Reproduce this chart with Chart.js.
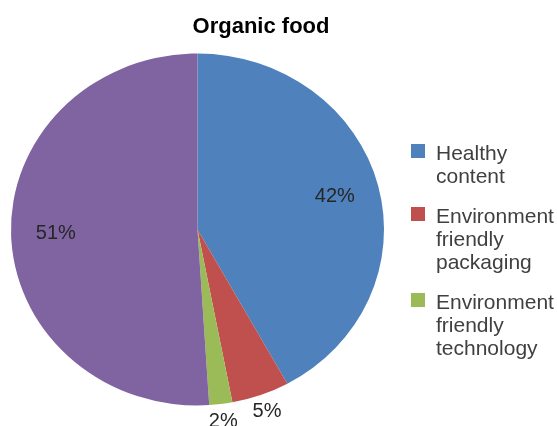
<!DOCTYPE html>
<html>
<head>
<meta charset="utf-8">
<script src="https://cdn.jsdelivr.net/npm/chart.js@4/dist/chart.umd.min.js"></script>
<style>
  html, body { margin: 0; padding: 0; background: #fff; }
  #wrap { width: 557px; height: 426px; position: relative; }
</style>
</head>
<body>
<div id="wrap"><canvas id="canvas"></canvas></div>
<script>
"use strict";

// data
const chartTitle = 'Organic food';
const categories = ['Healthy content', 'Environment friendly packaging', 'Environment friendly technology', 'Other'];
const shares = [42, 5, 2, 51];
const legendLines = [
  ['Healthy', 'content'],
  ['Environment', 'friendly', 'packaging'],
  ['Environment', 'friendly', 'technology']
];
const sliceColors = ['#4F81BD', '#C0504D', '#9BBB59', '#8064A2'];

// pie is a bit flatter than a circle in the picture
const squashY = 0.9435;
const fontFam = '"Liberation Sans", Arial, sans-serif';

const squashPlugin = {
  id: 'squash',
  beforeDatasetsDraw(chart) {
    const a = chart.chartArea;
    const cx = (a.left + a.right) / 2, cy = (a.top + a.bottom) / 2;
    const ctx = chart.ctx;
    ctx.save();
    ctx.translate(cx, cy);
    ctx.scale(1, squashY);
    ctx.translate(-cx, -cy);
  },
  afterDatasetsDraw(chart) {
    chart.ctx.restore();
  }
};

// percent labels, title and wrapped legend
const decorPlugin = {
  id: 'decor',
  afterDraw(chart) {
    const ctx = chart.ctx;
    const meta = chart.getDatasetMeta(0);
    ctx.save();
    ctx.font = '20px ' + fontFam;
    ctx.fillStyle = '#262626';
    ctx.textAlign = 'center';
    ctx.textBaseline = 'middle';
    meta.data.forEach((arc, i) => {
      const p = arc.getProps(['x', 'y', 'startAngle', 'endAngle', 'outerRadius'], true);
      const mid = (p.startAngle + p.endAngle) / 2;
      const k = shares[i] >= 10 ? 0.76 : 1.1;
      const x = p.x + Math.cos(mid) * p.outerRadius * k;
      const y = p.y + Math.sin(mid) * p.outerRadius * k * squashY;
      ctx.fillText(shares[i] + '%', x, y);
    });

    // title
    ctx.font = 'bold 22px ' + fontFam;
    ctx.fillStyle = '#000';
    ctx.textBaseline = 'alphabetic';
    ctx.fillText(chartTitle, 261, 33);

    // legend
    ctx.font = '21px ' + fontFam;
    ctx.fillStyle = '#404040';
    ctx.textAlign = 'left';
    let base = 160;
    legendLines.forEach((lines, i) => {
      ctx.fillStyle = sliceColors[i];
      ctx.fillRect(411, base - 16, 14, 14);
      ctx.fillStyle = '#404040';
      lines.forEach((t, j) => {
        ctx.fillText(t, 436, base + j * 23);
      });
      base += (lines.length - 1) * 23 + 40;
    });
    ctx.restore();
  }
};

const canvas = document.getElementById('canvas');
const ctx = canvas.getContext('2d');

let myChart = new Chart(ctx, {
  type: 'pie',
  data: {
    labels: categories,
    datasets: [{
      data: shares,
      backgroundColor: sliceColors,
      borderWidth: 0
    }]
  },
  options: {
    responsive: true,
    maintainAspectRatio: false,
    animation: false,
    layout: { padding: { left: 11, right: 173, top: 40, bottom: 7 } },
    plugins: {
      legend: { display: false },
      title: { display: false },
      tooltip: { enabled: false }
    }
  },
  plugins: [squashPlugin, decorPlugin]
});
</script>
</body>
</html>
